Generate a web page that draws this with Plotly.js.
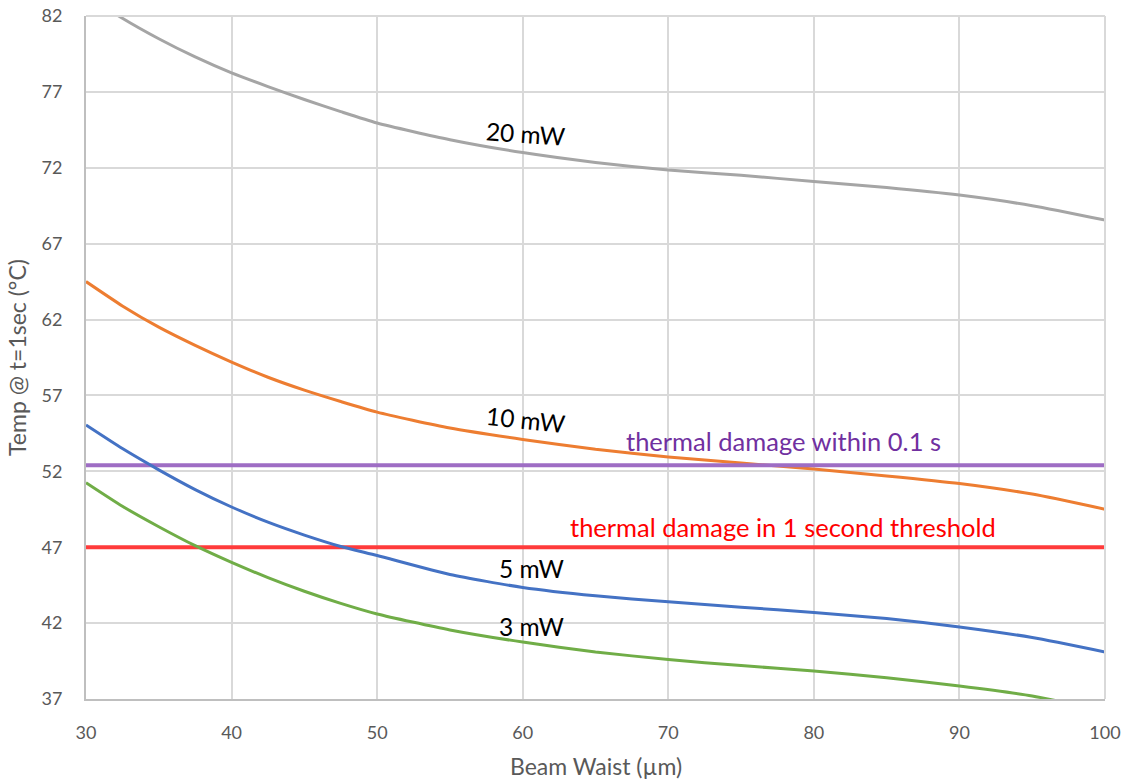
<!DOCTYPE html>
<html><head><meta charset="utf-8">
<script src="https://cdn.plot.ly/plotly-3.0.1.min.js"></script>
<style>html,body{margin:0;padding:0;background:#fff}#chart{width:1130px;height:782px}</style>
</head><body><div id="chart"></div>
<script>
const waist = [30,32.5,35,37.5,40,42.5,45,47.5,50,55,60,65,70,75,80,85,90,95,100];
const temp20mW = [83.4,81.85,80.5,79.3,78.25,77.35,76.5,75.7,74.95,73.85,73.0,72.35,71.85,71.5,71.1,70.7,70.2,69.5,68.55];
const temp10mW = [64.5,62.9,61.5,60.3,59.2,58.2,57.35,56.6,55.9,54.85,54.1,53.45,52.95,52.55,52.15,51.7,51.2,50.5,49.5];
const temp5mW  = [55.05,53.5,52.1,50.8,49.65,48.65,47.8,47.05,46.45,45.2,44.35,43.8,43.4,43.05,42.7,42.3,41.75,41.05,40.1];
const temp3mW  = [51.25,49.7,48.35,47.1,46.0,45.0,44.1,43.3,42.6,41.55,40.75,40.1,39.6,39.2,38.85,38.4,37.85,37.2,36.2];
const damage01s = 52.4;
const damage1s = 47.0;
const xTicks = [30,40,50,60,70,80,90,100];
const yTicks = [37,42,47,52,57,62,67,72,77,82];

const lineTrace = (y, color) => ({x: waist, y: y, mode: 'lines', line: {color: color, width: 3, shape: 'spline', smoothing: 0.6}, hoverinfo: 'none'});
const flatTrace = (v, color) => ({x: [30, 100], y: [v, v], mode: 'lines', line: {color: color, width: 4}, hoverinfo: 'none'});

const data = [
  lineTrace(temp20mW, '#a5a5a5'),
  lineTrace(temp10mW, '#ed7d31'),
  flatTrace(damage01s, '#9e6dc4'),
  flatTrace(damage1s, '#ff3b3b'),
  lineTrace(temp5mW, '#4472c4'),
  lineTrace(temp3mW, '#70ad47')
];

const font = "Lato, Open Sans, sans-serif";
const ann = (x, y, text, color, size, angle) => ({x: x, y: y, text: text, showarrow: false, font: {family: font, size: size, color: color}, textangle: angle || 0});

const layout = {
  width: 1130, height: 782,
  margin: {l: 86, r: 25, t: 16, b: 83},
  paper_bgcolor: '#fff', plot_bgcolor: '#fff',
  showlegend: false,
  font: {family: font},
  xaxis: {
    range: [30, 100], tickvals: xTicks, ticktext: xTicks.map(String),
    showgrid: true, gridcolor: '#d9d9d9', gridwidth: 2,
    showline: true, linecolor: '#bfbfbf', linewidth: 2, mirror: false,
    zeroline: false, ticks: 'outside', ticklen: 16, tickcolor: 'rgba(0,0,0,0)',
    automargin: false,
    tickfont: {size: 18, color: '#595959', family: font}
  },
  yaxis: {
    range: [37, 82], tickvals: yTicks, ticktext: yTicks.map(String),
    showgrid: true, gridcolor: '#d9d9d9', gridwidth: 2,
    showline: true, linecolor: '#bfbfbf', linewidth: 2,
    zeroline: false, ticks: '', ticklen: 0, ticklabelstandoff: 18,
    tickfont: {size: 18, color: '#595959', family: font},
    title: {text: 'Temp @ t=1sec (°C)', font: {size: 23, color: '#595959', family: font}, standoff: 8}
  },
  shapes: [
    {type: 'line', xref: 'paper', yref: 'paper', x0: 0, x1: 1, y0: 1, y1: 1, line: {color: '#d9d9d9', width: 2}},
    {type: 'line', xref: 'paper', yref: 'paper', x0: 1, x1: 1, y0: 0, y1: 1, line: {color: '#d9d9d9', width: 2}}
  ],
  annotations: [
    {xref: 'paper', yref: 'paper', x: 0.5, y: -0.098, yanchor: 'middle', text: 'Beam Waist (µm)', showarrow: false, font: {family: font, size: 23, color: '#595959'}},
    ann(60.2, 74.25, '20 mW', '#000', 24.5, 4),
    ann(60.2, 55.4, '10 mW', '#000', 24.5, 6),
    ann(77.9, 54.0, 'thermal damage within 0.1 s', '#7030a0', 25.5),
    ann(77.9, 48.3, 'thermal damage in 1 second threshold', '#ff0000', 25.5),
    ann(60.6, 45.6, '5 mW', '#000', 24.5),
    ann(60.6, 41.8, '3 mW', '#000', 24.5)
  ]
};
Plotly.newPlot('chart', data, layout, {displayModeBar: false, staticPlot: true});
</script></body></html>
